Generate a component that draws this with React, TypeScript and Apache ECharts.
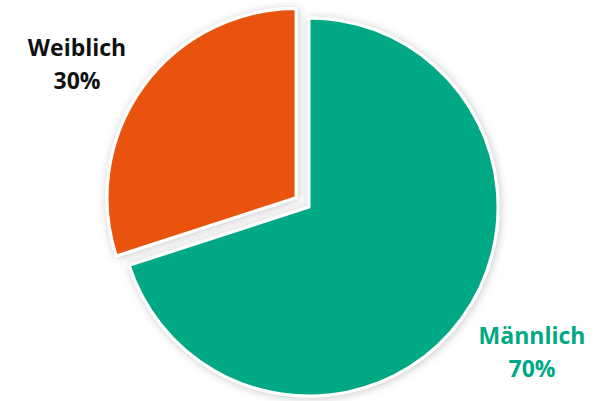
import React, { useEffect, useRef } from "react";
import * as echarts from "echarts";

const categories = ["Männlich", "Weiblich"];
const values = [70, 30];
const colors = ["#00A884", "#E8530F"];
const labelColors = ["#00A884", "#111111"];
const exploded = [false, true];

export default function App() {
  const ref = useRef<HTMLDivElement>(null);
  useEffect(() => {
    if (!ref.current) return;
    const chart = echarts.init(ref.current, undefined, { renderer: "svg" });
    const labelPos: [number, number][] = [
      [532, 351],
      [77, 63],
    ];
    const total = values.reduce((a, b) => a + b, 0);
    chart.setOption({
      animation: false,
      graphic: categories.map((c, i) => ({
        type: "text",
        x: labelPos[i][0],
        y: labelPos[i][1],
        z: 10,
        style: {
          text: `${c}\n${Math.round((values[i] / total) * 100)}%`,
          fontFamily: "Open Sans",
          fontWeight: "bold",
          fontSize: 23,
          lineHeight: 33,
          align: "center",
          verticalAlign: "middle",
          fill: labelColors[i],
        },
      })),
      series: [
        {
          type: "pie",
          center: [309, 207],
          radius: 189,
          startAngle: 90,
          clockwise: true,
          selectedMode: "single",
          selectedOffset: 16,
          emphasis: { disabled: true },
          itemStyle: {
            borderColor: "#ffffff",
            borderWidth: 3,
            shadowBlur: 8,
            shadowColor: "rgba(0,0,0,0.22)",
            shadowOffsetX: 1,
            shadowOffsetY: 1,
          },
          label: { show: false },
          labelLine: { show: false },
          data: categories.map((c, i) => ({
            name: c,
            value: values[i],
            selected: exploded[i],
            itemStyle: { color: colors[i] },
          })),
        },
      ],
    });
    return () => chart.dispose();
  }, []);
  return (
    <div
      ref={ref}
      style={{ position: "absolute", left: 0, top: 0, width: 603, height: 401, background: "#fff" }}
    />
  );
}
